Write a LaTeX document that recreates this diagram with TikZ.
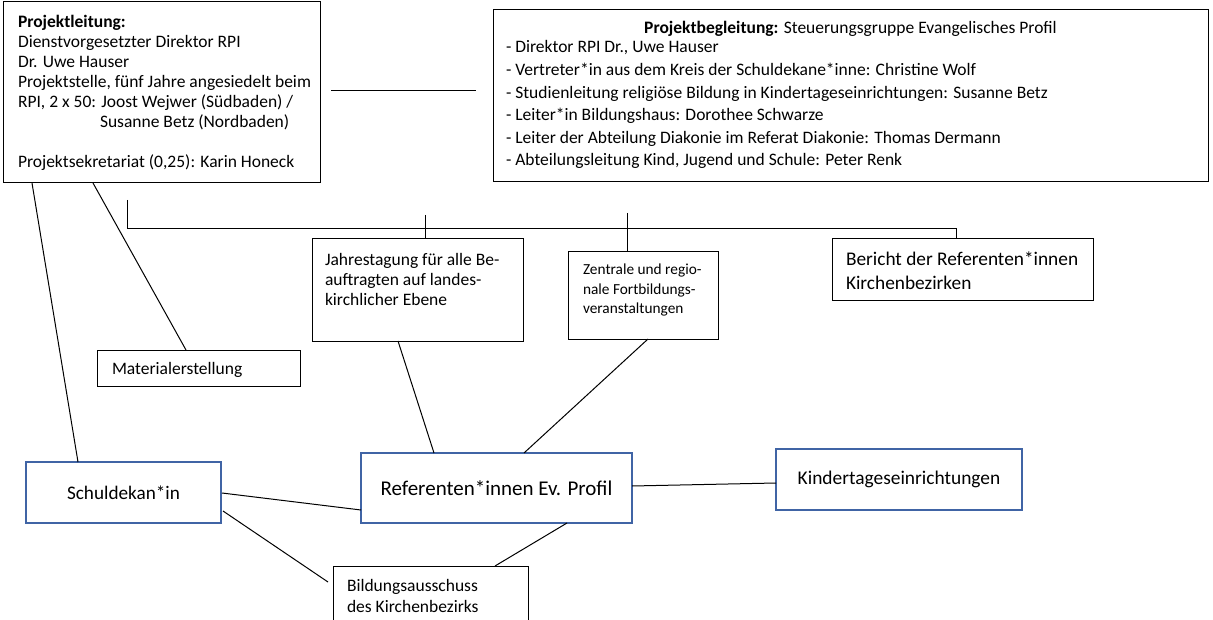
\documentclass[tikz,border=0pt]{standalone}
\usepackage{fontspec}
\setmainfont{Carlito}
\usetikzlibrary{calc}
\definecolor{bbord}{RGB}{64,100,165}
\newcommand\fsz[2]{\fontsize{#1}{#2}\selectfont}
\newcommand\pbx[1]{\parbox[t]{420pt}{\raggedright #1}}
\begin{document}
\begin{tikzpicture}[x=0.75pt,y=-0.75pt,
  box/.style={draw=black,line width=0.75pt,inner sep=0pt,outer sep=0pt,anchor=north west},
  bbox/.style={draw=bbord,line width=1.5pt,inner sep=0pt,outer sep=0pt,anchor=north west},
  txt/.style={inner sep=0pt,outer sep=0pt,anchor=base west},
  ln/.style={line width=0.75pt,draw=black},
  fnorm/.style={font=\fsz{13.125pt}{15pt}}]
\clip (0,0) rectangle (1213,620);
\fill[white] (0,0) rectangle (1213,620);

% boxes
\node[box,minimum width=237.75pt,minimum height=135.75pt] (pl) at (3,2) {};
\node[box,minimum width=536.25pt,minimum height=129pt] (pb) at (493,10) {};
\node[box,minimum width=158.25pt,minimum height=76.5pt] (jt) at (312,239) {};
\node[box,minimum width=112.5pt,minimum height=65.25pt] (zf) at (568,252) {};
\node[box,minimum width=195.75pt,minimum height=45.75pt] (ber) at (832,239) {};
\node[box,minimum width=152.25pt,minimum height=27pt] (mat) at (97,350) {};
\node[box,minimum width=146.25pt,minimum height=60pt] (bil) at (333,566) {};
\node[bbox,minimum width=146.25pt,minimum height=45.75pt,font=\fsz{14.4pt}{17pt}] (sd) at (26,462) {Schuldekan*in};
\node[bbox,minimum width=203.25pt,minimum height=52.5pt,font=\fsz{15.75pt}{19pt}] (ref) at (361,453) {Referenten*innen Ev. Profil};
\node[bbox,minimum width=184.5pt,minimum height=45.75pt,font=\fsz{14.55pt}{17pt}] (kita) at (776,449) {Kindertageseinrichtungen};

% texts
\node[txt,fnorm] (plt) at (18,28) {\pbx{\textbf{Projektleitung:}\\
Dienstvorgesetzter Direktor RPI\\
Dr. Uwe Hauser\\
Projektstelle, fünf Jahre angesiedelt beim\\
RPI, 2 x 50: Joost Wejwer (Südbaden) /\\
\hspace*{61.5pt}Susanne Betz (Nordbaden)\\[15pt]
Projektsekretariat (0,25): Karin Honeck}};

\node[inner sep=0pt,anchor=base,fnorm] (pbt) at (850.5,34) {\textbf{Projektbegleitung:} Steuerungsgruppe Evangelisches Profil};
\node[txt,font=\fsz{13.125pt}{16.95pt}] (pbl) at (506,53) {\pbx{- Direktor RPI Dr., Uwe Hauser\\
- Vertreter*in aus dem Kreis der Schuldekane*inne: Christine Wolf\\
- Studienleitung religiöse Bildung in Kindertageseinrichtungen: Susanne Betz\\
- Leiter*in Bildungshaus: Dorothee Schwarze\\
- Leiter der Abteilung Diakonie im Referat Diakonie: Thomas Dermann\\
- Abteilungsleitung Kind, Jugend und Schule: Peter Renk}};

\node[txt,fnorm] (jtt) at (325,266) {\pbx{Jahrestagung für alle Be-\\auftragten auf landes-\\kirchlicher Ebene}};
\node[txt,font=\fsz{11.5pt}{14.6pt}] (zft) at (583,275) {\pbx{Zentrale und regio-\\nale Fortbildungs-\\veranstaltungen}};
\node[txt,font=\fsz{14.5pt}{17.25pt}] (bert) at (846,266) {\pbx{Bericht der Referenten*innen\\Kirchenbezirken}};
\node[txt,fnorm] (matt) at (112,374) {Materialerstellung};
\node[txt,font=\fsz{13.125pt}{15.75pt}] (bilt) at (347,591) {\pbx{Bildungsausschuss\\des Kirchenbezirks}};

% connectors
\draw[ln] ($(pl.north east)+(11,89)$) -- ($(pb.north west)+(-17,81)$);
\draw[ln] ($(pl.south west)+(124,17)$) -- ++(0,29) -| ($(ber.north west)+(124,0)$);
\draw[ln] ($(jt.north west)+(113,-24)$) -- ($(jt.north west)+(113,0)$);
\draw[ln] ($(zf.north west)+(59,-39)$) -- ($(zf.north west)+(59,0)$);
\draw[ln] ($(pl.south west)+(29,0)$) -- ($(sd.north west)+(52,0)$);
\draw[ln] ($(pl.south west)+(90,0)$) -- ($(mat.north west)+(89,0)$);
\draw[ln] ($(jt.south west)+(86,0)$) -- ($(ref.north west)+(73,0)$);
\draw[ln] ($(zf.south west)+(80,0)$) -- ($(ref.north west)+(163,0)$);
\draw[ln] ($(sd.north east)+(1,31)$) -- ($(ref.north west)+(0,57)$);
\draw[ln] ($(sd.north east)+(2,49)$) -- ($(bil.north west)+(-5,16)$);
\draw[ln] ($(ref.south west)+(206,0)$) -- ($(bil.north west)+(162,0)$);
\draw[ln] ($(ref.north east)+(0,33)$) -- ($(kita.north west)+(0,34)$);
\end{tikzpicture}
\end{document}
